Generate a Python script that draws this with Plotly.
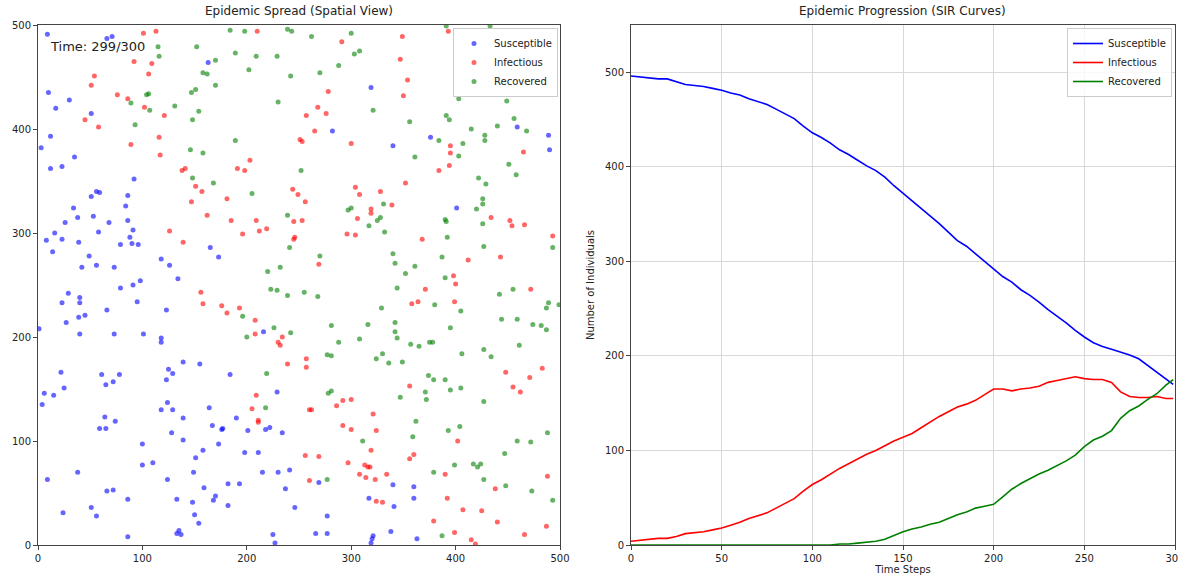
import plotly.graph_objects as go

# ---------------- Spatial view (agent positions at t=299) ----------------
sus_pts = [(9,491),(66,487),(71,489),(163,464),(10,435),(30,428),(17,420),(51,415),(12,393),(3,382),(35,373),(12,362),(23,364),(92,352),(56,340),(59,339),(51,335),(86,336),
(319,440),(282,398),(459,402),(489,394),(490,380),(376,392),(340,384),
(34,324),(84,326),(38,315),(53,316),(86,312),(26,310),(68,310),(58,301),(91,303),(16,300),(8,293),(23,294),(39,291),(88,296),(79,289),(90,290),(96,289),(165,286),(14,282),(49,278),(42,267),(56,269),(73,267),(118,275),(126,269),(134,256),(98,254),(91,250),(79,247),(29,242),(40,238),(40,233),(23,233),(95,234),(123,226),(66,226),(45,221),(39,219),(27,214),(1,208),(40,203),(73,203),(101,203),(118,199),(118,195),(139,176),(155,174),(125,169),(129,165),(22,166),(61,164),(78,164),
(65,154),(72,157),(6,146),(15,144),(25,151),(4,135),(123,159),(124,137),(118,130),(129,130),(139,122),(164,132),(64,123),(74,119),(59,112),(65,112),(128,108),(139,101),(100,97),(158,91),(151,84),(100,77),(110,79),(9,63),(38,70),(124,63),(149,70),(159,55),(66,52),(72,53),(86,44),(133,44),(148,41),(51,36),(56,28),(24,31),(150,29),(154,21),(86,8),(133,11),(135,14),(137,10),
(173,277),(216,205),(184,164),(401,324),
(229,147),(190,122),(201,110),(218,111),(222,113),(234,108),(167,115),(176,111),(177,112),(173,97),(198,89),(211,89),(215,70),(230,70),(241,72),(182,59),(193,59),(237,54),(170,47),(168,43),(182,38),(246,36),(277,28),(225,10),(227,2),(266,11),(277,11),(320,6),(321,9),(319,2),(269,60),(317,45),
(340,58),(360,56),(360,45),(341,37),(338,13),(363,6)]

inf_pts = [(101,492),(113,494),(92,465),(109,463),(106,453),(54,451),(51,442),(76,433),(86,429),(102,421),(121,413),(45,409),(58,402),(89,385),(116,392),(117,375),(138,360),(141,362),(151,345),(157,340),
(210,494),(291,484),(278,436),(268,421),(257,413),(276,415),(265,398),(251,390),(253,388),(300,386),(203,370),(191,362),(198,360),(244,342),(249,337),(304,344),(308,337),(328,340),(181,333),
(349,489),(393,494),(347,467),(354,447),(350,432),(395,384),(395,377),(465,378),(394,365),(384,360),(352,348),
(147,330),(162,317),(126,302),(139,291),(156,243),(158,232),
(256,330),(185,312),(209,312),(212,302),(219,304),(196,299),(245,311),(253,312),(245,294),(246,296),(269,270),(319,323),(319,319),(306,314),(296,299),(304,298),(176,230),(181,223),(193,228),(208,216),(208,203),(234,200),(230,195),(232,192),(257,179),(257,171),(239,174),
(339,327),(434,315),(452,312),(454,307),(466,308),(493,297),(368,294),(443,277),(412,274),(398,259),(400,251),(371,246),(472,246),(358,232),(364,234),(399,234),(448,166),(483,170),
(209,144),(205,131),(211,120),(211,118),(260,130),(262,130),(286,134),(292,139),(300,140),(321,126),(292,115),(300,111),(324,110),(319,91),(256,86),(269,85),(297,79),(313,77),(316,75),(318,75),(308,68),(314,65),(323,63),(260,62),(324,42),(330,41),
(471,161),(356,153),(455,152),(462,147),(402,100),(356,83),(360,87),(334,68),(390,68),(488,66),(438,54),(392,45),(407,34),(425,33),(379,23),(440,22),(399,12),(415,5),(419,1),(466,10),(487,18)]

rec_pts = [(115,479),(116,470),(152,479),(158,454),(162,453),(89,425),(104,433),(106,434),(107,418),(131,422),(147,435),(151,438),(154,417),(148,409),(93,404),(146,380),(158,377),(148,353),
(184,495),(198,494),(239,496),(243,494),(262,489),(300,492),(303,472),(308,475),(189,473),(209,470),(229,470),(170,466),(170,442),(202,457),(242,451),(270,454),(288,461),(230,426),(321,418),(189,389),(252,360),(168,348),(205,338),
(433,499),(391,499),(403,429),(449,427),(456,410),(391,413),(394,409),(356,407),(415,400),(440,403),(468,398),(428,394),(428,389),(384,389),(407,386),(403,374),(361,373),(451,366),(458,356),(422,353),(429,347),(426,333),
(239,317),(241,286),(270,278),(232,267),(220,263),(297,322),(300,324),(325,312),(328,315),(317,307),(331,328),(223,246),(229,245),(239,240),(255,243),(268,239),(329,228),(196,220),(226,209),(200,200),(242,204),(281,211),(316,212),(288,195),(308,198),(277,183),(281,182),(324,179),(330,184),(219,165),
(332,301),(426,328),(420,323),(390,313),(391,311),(426,309),(493,286),(392,296),(427,287),(340,280),(342,271),(361,268),(387,277),(352,261),(390,257),(344,247),(442,241),(455,246),(380,231),(405,225),(487,228),(489,233),(499,231),(342,214),(342,205),(344,199),(395,209),(444,217),(459,217),(474,212),(482,211),(487,207),(357,193),(365,191),(375,195),(378,195),(461,192),(336,175),(349,176),(406,184),(427,188),(434,181),(374,163),
(218,132),(278,146),(281,148),(311,100),(277,63),
(379,159),(390,159),(347,142),(371,147),(372,140),(395,149),(405,151),(427,138),(362,119),(359,104),(393,110),(404,114),(488,108),(459,100),(472,99),(447,88),(399,77),(417,78),(421,75),(424,78),(379,70),(427,63),(448,57),(473,52),(493,43),(387,9)]

# ---------------- SIR curves ----------------
time_steps = [0,5,10,15,20,25,30,35,40,45,50,55,60,65,70,75,80,85,90,95,100,105,110,115,120,125,130,135,140,145,
              150,155,160,165,170,175,180,185,190,195,200,205,210,215,220,225,230,235,240,245,250,255,260,265,270,275,280,285,290,295,299]
susceptible = [496,495,494,493,493,490,487,486,485,483,481,478,476,472,469,466,461,456,451,443,436,431,425,418,413,407,401,396,389,380,
               372,365,357,348,340,331,322,316,308,300,292,284,278,270,264,257,249,242,235,227,220,214,210,207,204,201,197,190,183,176,170]
infectious = [4,5,6,7,7,9,12,13,14,16,18,21,24,28,31,34,39,44,49,57,64,69,75,81,86,91,96,100,105,110,
              114,118,124,130,136,141,146,149,153,159,165,165,163,165,166,168,172,174,176,178,176,175,175,172,162,157,156,156,157,155,155]
recovered = [0,0,0,0,0,0,0,0,0,0,0,0,0,0,0,0,0,0,0,0,0,0,0,1,1,2,3,4,6,10,
             14,17,19,22,24,28,32,35,39,41,43,51,59,65,70,75,79,84,89,95,104,111,115,121,134,142,147,154,160,169,175]

legend_names = ["Susceptible", "Infectious", "Recovered"]
colors = ["blue", "red", "green"]

FONT = "DejaVu Sans"
W, H = 1178, 581
def px(x): return x / W
def py(y): return 1 - y / H

fig = go.Figure()

for name, pts, c in zip(legend_names, [sus_pts, inf_pts, rec_pts], colors):
    fig.add_trace(go.Scatter(
        x=[p[0] for p in pts], y=[p[1] for p in pts], mode="markers", name=name,
        marker=dict(color=c, size=5, opacity=0.6, line=dict(width=0)),
        xaxis="x", yaxis="y", legend="legend"))

for name, vals, c in zip(legend_names, [susceptible, infectious, recovered], colors):
    fig.add_trace(go.Scatter(
        x=time_steps, y=vals, mode="lines", name=name,
        line=dict(color=c, width=1.6),
        xaxis="x2", yaxis="y2", legend="legend2"))

axis_common = dict(showline=True, linecolor="#444", linewidth=1, mirror=True,
                   ticks="outside", ticklen=4, tickcolor="#444", automargin=False,
                   ticklabeloverflow="allow",
                   tickfont=dict(family=FONT, size=10, color="#222"), zeroline=False)

fig.update_layout(
    width=W, height=H, margin=dict(l=0, r=0, t=0, b=0, autoexpand=False),
    paper_bgcolor="white", plot_bgcolor="white",
    font=dict(family=FONT, size=10, color="#222"),
    xaxis=dict(domain=[px(38), px(560)], range=[0, 500], tickvals=[0,100,200,300,400,500],
               anchor="y", showgrid=False, **axis_common),
    yaxis=dict(domain=[py(545), py(25)], range=[0, 500], tickvals=[0,100,200,300,400,500],
               anchor="x", showgrid=False, **axis_common),
    xaxis2=dict(domain=[px(631), px(1175)], range=[0, 300], tickvals=[0,50,100,150,200,250,300],
                anchor="y2", showgrid=True, gridcolor="#d9d9d9", gridwidth=1,
                title=dict(text="Time Steps", font=dict(family=FONT, size=10), standoff=2), **axis_common),
    yaxis2=dict(domain=[py(545), py(25)], range=[0, 550], tickvals=[0,100,200,300,400,500],
                anchor="x2", showgrid=True, gridcolor="#d9d9d9", gridwidth=1,
                title=dict(text="Number of Individuals", font=dict(family=FONT, size=10), standoff=8), **axis_common),
    legend=dict(x=px(558), y=py(28), xanchor="right", yanchor="top",
                bgcolor="rgba(255,255,255,0.8)", bordercolor="#cccccc", borderwidth=1,
                font=dict(family=FONT, size=10), tracegroupgap=0),
    legend2=dict(x=px(1172), y=py(28), xanchor="right", yanchor="top",
                 bgcolor="rgba(255,255,255,0.8)", bordercolor="#cccccc", borderwidth=1,
                 font=dict(family=FONT, size=10), tracegroupgap=0),
    annotations=[
        dict(text="Epidemic Spread (Spatial View)", x=px(299), y=py(11), xref="paper", yref="paper",
             showarrow=False, xanchor="center", yanchor="middle", font=dict(family=FONT, size=12, color="#222")),
        dict(text="Epidemic Progression (SIR Curves)", x=px(902), y=py(11), xref="paper", yref="paper",
             showarrow=False, xanchor="center", yanchor="middle", font=dict(family=FONT, size=12, color="#222")),
        dict(text="Time: 299/300", x=px(48), y=py(46), xref="paper", yref="paper",
             showarrow=False, xanchor="left", yanchor="middle", font=dict(family=FONT, size=13, color="#222")),
    ],
)

fig.write_html("out.html", config={"displayModeBar": False},
               post_script="document.body.style.margin='0';document.body.style.padding='0';document.body.style.overflow='hidden';")
